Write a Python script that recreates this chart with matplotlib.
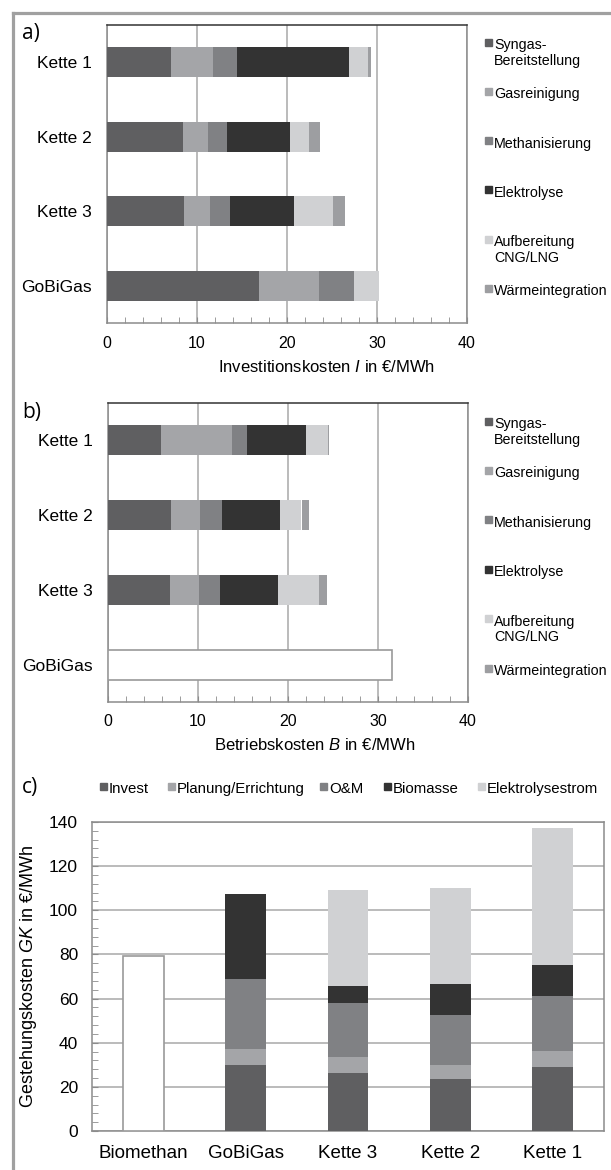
import matplotlib
matplotlib.use("Agg")
import matplotlib.pyplot as plt
import matplotlib.patches as patches
from matplotlib.lines import Line2D
from matplotlib.ticker import MultipleLocator
import numpy as np

# --- data --------------------------------------------------------------
chains_ab = ["Kette 1", "Kette 2", "Kette 3", "GoBiGas"]
parts_ab = ["Syngas-\nBereitstellung", "Gasreinigung", "Methanisierung",
            "Elektrolyse", "Aufbereitung\nCNG/LNG", "Wärmeintegration"]

# a) Investitionskosten, one list per part, order as chains_ab
inv_syngas = [7.1, 8.4, 8.6, 16.9]
inv_gasrein = [4.7, 2.85, 2.8, 6.7]
inv_meth = [2.65, 2.1, 2.25, 3.85]
inv_elektro = [12.45, 7.0, 7.1, 0.0]
inv_aufber = [2.05, 2.1, 4.4, 2.8]
inv_waerme = [0.35, 1.2, 1.25, 0.0]

# b) Betriebskosten (GoBiGas only as total)
op_syngas = [5.9, 7.05, 6.9, 0.0]
op_gasrein = [7.85, 3.15, 3.2, 0.0]
op_meth = [1.7, 2.45, 2.35, 0.0]
op_elektro = [6.55, 6.45, 6.4, 0.0]
op_aufber = [2.4, 2.4, 4.55, 0.0]
op_waerme = [0.2, 0.85, 0.9, 0.0]
op_gobigas_total = 31.5

# c) Gestehungskosten
chains_c = ["Biomethan", "GoBiGas", "Kette 3", "Kette 2", "Kette 1"]
parts_c = ["Invest", "Planung/Errichtung", "O&M", "Biomasse", "Elektrolysestrom"]
gk_invest = [0.0, 30.1, 26.3, 23.5, 29.0]
gk_planung = [0.0, 7.2, 7.2, 6.4, 7.2]
gk_om = [0.0, 31.7, 24.4, 22.5, 24.9]
gk_biomasse = [0.0, 38.2, 7.7, 14.4, 14.3]
gk_strom = [0.0, 0.0, 43.7, 43.2, 61.9]
biomethan_total = 79.2

# --- style -------------------------------------------------------------
colors_ab = ["#5f5f61", "#a4a5a8", "#808184", "#333333", "#d0d1d3", "#9d9ea1"]
colors_c = ["#5f5f61", "#a4a5a8", "#808184", "#333333", "#d0d1d3"]
grid_col = "#a8a8a8"
spine_col = "#8c8c8c"

plt.rcParams['font.family'] = ['Liberation Sans', 'DejaVu Sans']
plt.rcParams['mathtext.fontset'] = 'custom'
plt.rcParams['mathtext.it'] = 'Liberation Sans:italic'
plt.rcParams['mathtext.rm'] = 'Liberation Sans'

W, H = 611, 1170
fig = plt.figure(figsize=(W / 100, H / 100), dpi=100)


def box(left, top, right, bottom):
    return [left / W, 1 - bottom / H, (right - left) / W, (bottom - top) / H]


def fx(x):
    return x / W


def fy(y):
    return 1 - y / H


# gray frame around the figure
fig.add_artist(Line2D([fx(12.5), fx(12.5)], [fy(12.5), 0], color="#a0a0a0", lw=2.3))
fig.add_artist(Line2D([fx(12.5), 1], [fy(12.5), fy(12.5)], color="#a0a0a0", lw=2.3))


def legend_entry(x, y, label, col, size=10.3):
    # small colour square plus text, first text line centred on y
    fig.add_artist(patches.Rectangle((fx(x), fy(y + 2.5)), 7 / W, 7 / H,
                                     color=col, transform=fig.transFigure))
    fig.text(fx(x + 9), fy(y - 5), label, fontsize=size, va='top', ha='left',
             linespacing=1.15)


def hbar_panel(rect, series, xlabel, label_x, label_y):
    ax = fig.add_axes(rect)
    y = np.arange(len(chains_ab))
    left = np.zeros(len(chains_ab))
    for vals, col in zip(series, colors_ab):
        ax.barh(y, vals, left=left, height=0.4, color=col, linewidth=0, zorder=3)
        left += np.array(vals)
    ax.set_ylim(3.5, -0.5)
    ax.set_xlim(0, 40)
    ax.set_yticks(y)
    ax.set_yticklabels(chains_ab, fontsize=12.5)
    ax.tick_params(axis='y', length=0, pad=11)
    ax.xaxis.set_major_locator(MultipleLocator(10))
    ax.xaxis.set_minor_locator(MultipleLocator(2))
    ax.tick_params(axis='x', which='both', direction='in', length=4,
                   color=spine_col, labelsize=11.5, pad=9)
    ax.grid(axis='x', which='major', color=grid_col, lw=1.1, zorder=0)
    for s in ax.spines.values():
        s.set_color(spine_col)
        s.set_linewidth(1.1)
    ax.spines['top'].set_color("#333333")
    ax.set_xlabel(xlabel, fontsize=12)
    ax.xaxis.set_label_coords(label_x, label_y)
    return ax


# a)
ax_a = hbar_panel(box(107, 25, 467, 323),
                  [inv_syngas, inv_gasrein, inv_meth, inv_elektro, inv_aufber, inv_waerme],
                  r"Investitionskosten $\mathit{I}$ in €/MWh", 0.61, -0.12)
for i, (lab, col) in enumerate(zip(parts_ab, colors_ab)):
    legend_entry(485, 43 + 49.3 * i, lab, col)
fig.text(fx(22), fy(33), "a)", fontsize=15, family="Open Sans", va='center')

# b)
ax_b = hbar_panel(box(108, 403, 468, 702),
                  [op_syngas, op_gasrein, op_meth, op_elektro, op_aufber, op_waerme],
                  r"Betriebskosten $\mathit{B}$ in €/MWh", 0.575, -0.117)
ax_b.barh([3], [op_gobigas_total], height=0.4, color="white",
          edgecolor="#9a9a9a", linewidth=1.2, zorder=3)
for i, (lab, col) in enumerate(zip(parts_ab, colors_ab)):
    legend_entry(485, 422 + 49.4 * i, lab, col)
fig.text(fx(22), fy(412), "b)", fontsize=15, family="Open Sans", va='center')

# c)
ax_c = fig.add_axes(box(92, 822, 604, 1131))
x = np.arange(len(chains_c))
bottom = np.zeros(len(chains_c))
for vals, col in zip([gk_invest, gk_planung, gk_om, gk_biomasse, gk_strom], colors_c):
    ax_c.bar(x, vals, bottom=bottom, width=0.4, color=col, linewidth=0, zorder=3)
    bottom += np.array(vals)
ax_c.bar([0], [biomethan_total], width=0.4, color="white", edgecolor="#9a9a9a",
         linewidth=1.2, zorder=3)
ax_c.set_xlim(-0.5, 4.5)
ax_c.set_ylim(0, 140)
ax_c.set_xticks(x)
ax_c.set_xticklabels(chains_c, fontsize=13.5)
ax_c.tick_params(axis='x', length=0, pad=10)
ax_c.yaxis.set_major_locator(MultipleLocator(20))
ax_c.yaxis.set_minor_locator(MultipleLocator(4))
ax_c.tick_params(axis='y', which='both', direction='in', length=4,
                 color=spine_col, labelsize=12.5, pad=10)
ax_c.grid(axis='y', which='major', color=grid_col, lw=1.1, zorder=0)
for s in ax_c.spines.values():
    s.set_color(spine_col)
    s.set_linewidth(1.1)
ax_c.set_ylabel(r"Gestehungskosten $\mathit{GK}$ in €/MWh", fontsize=13)
ax_c.yaxis.set_label_coords(-0.104, 0.5)
fig.text(fx(22), fy(787), "c)", fontsize=15, family="Open Sans", va='center')

legend_x_c = [100, 168, 320, 384, 478]
for lx, lab, col in zip(legend_x_c, parts_c, colors_c):
    legend_entry(lx, 787, lab, col, size=10.8)

fig.savefig("out.png", dpi=100)
